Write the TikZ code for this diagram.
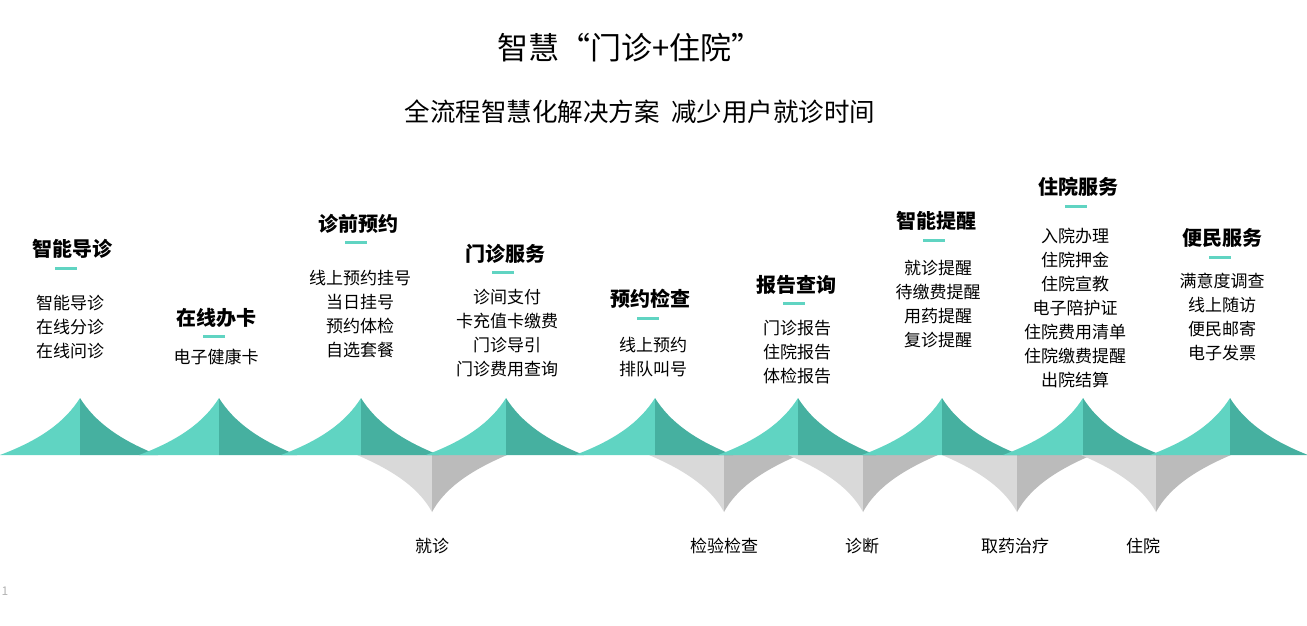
\documentclass[tikz,border=0pt]{standalone}
\usepackage{fontspec}
\setmainfont{Noto Sans CJK SC}
\newfontfamily\cjk{Noto Sans CJK SC}
\usetikzlibrary{positioning}
\definecolor{tealL}{HTML}{60D4C2}
\definecolor{tealD}{HTML}{46B0A0}
\definecolor{grayL}{HTML}{D9D9D9}
\definecolor{grayD}{HTML}{BBBBBB}
\tikzset{
  head/.style={font=\cjk\fontsize{20}{24}\selectfont\bfseries, inner sep=0pt},
  items/.style={font=\cjk\fontsize{17}{24}\selectfont, align=center, inner sep=0pt, anchor=north},
  bar/.style={fill=tealL, minimum width=22pt, minimum height=3pt, inner sep=0pt},
  foot/.style={font=\cjk\fontsize{17}{20}\selectfont, inner sep=0pt}
}
\begin{document}
\begin{tikzpicture}[x=1pt,y=-1pt]
  \useasboundingbox (0,0) rectangle (1307,625);

  % gray valleys
  \foreach \g in {432,724,863,1017,1156} {
    \fill[grayL] (\g-75,455) .. controls (\g-35,472) and (\g-12,490) .. (\g,512) -- (\g,455) -- cycle;
    \fill[grayD] (\g+75,455) .. controls (\g+35,472) and (\g+12,490) .. (\g,512) -- (\g,455) -- cycle;
  }
  % teal peaks
  \foreach \p in {80,219,361,506,655,798,942,1083,1230} {
    \fill[tealL] (\p-80,455) .. controls (\p-40,440) and (\p-15,422) .. (\p,398) -- (\p,455) -- cycle;
    \fill[tealD] (\p+78,455) .. controls (\p+40,440) and (\p+15,422) .. (\p,398) -- (\p,455) -- cycle;
  }

  \node[font=\cjk\fontsize{31}{33}\selectfont] (title) at (630,48) {智慧“门诊+住院”};
  \node[font=\cjk\fontsize{25.5}{27}\selectfont] (subtitle) at (640,112) {全流程智慧化解决方案\ \ 减少用户就诊时间};

  % columns
  \node[head] (h1) at (72,249) {智能导诊};
  \node[bar] (b1) at (66,268) {};
  \node[items] (l1) at (70,295) {智能导诊\\在线分诊\\在线问诊};

  \node[head] (h2) at (216,318) {在线办卡};
  \node[bar] (b2) at (214,336) {};
  \node[items] (l2) at (216,349) {电子健康卡};

  \node[head] (h3) at (358,224) {诊前预约};
  \node[bar] (b3) at (356,242) {};
  \node[items] (l3) at (360,270) {线上预约挂号\\当日挂号\\预约体检\\自选套餐};

  \node[head] (h4) at (505,254) {门诊服务};
  \node[bar] (b4) at (503,272) {};
  \node[items] (l4) at (507,289) {诊间支付\\卡充值卡缴费\\门诊导引\\门诊费用查询};

  \node[head] (h5) at (650,299) {预约检查};
  \node[bar] (b5) at (648,318) {};
  \node[items] (l5) at (653,337) {线上预约\\排队叫号};

  \node[head] (h6) at (796,285) {报告查询};
  \node[bar] (b6) at (794,303) {};
  \node[items] (l6) at (797,320) {门诊报告\\住院报告\\体检报告};

  \node[head] (h7) at (936,221) {智能提醒};
  \node[bar] (b7) at (934,240) {};
  \node[items] (l7) at (938,260) {就诊提醒\\待缴费提醒\\用药提醒\\复诊提醒};

  \node[head] (h8) at (1078,187) {住院服务};
  \node[bar] (b8) at (1076,206) {};
  \node[items] (l8) at (1075,228) {入院办理\\住院押金\\住院宣教\\电子陪护证\\住院费用清单\\住院缴费提醒\\出院结算};

  \node[head] (h9) at (1222,238) {便民服务};
  \node[bar] (b9) at (1220,257) {};
  \node[items] (l9) at (1222,273) {满意度调查\\线上随访\\便民邮寄\\电子发票};

  % stages below
  \node[foot] (f1) at (432,546) {就诊};
  \node[foot] (f2) at (724,546) {检验检查};
  \node[foot] (f3) at (862,546) {诊断};
  \node[foot] (f4) at (1015,546) {取药治疗};
  \node[foot] (f5) at (1143,546) {住院};

  \node[font=\fontsize{12}{12}\selectfont, text=gray!60, inner sep=0pt] (pg) at (5,591) {1};
\end{tikzpicture}
\end{document}
